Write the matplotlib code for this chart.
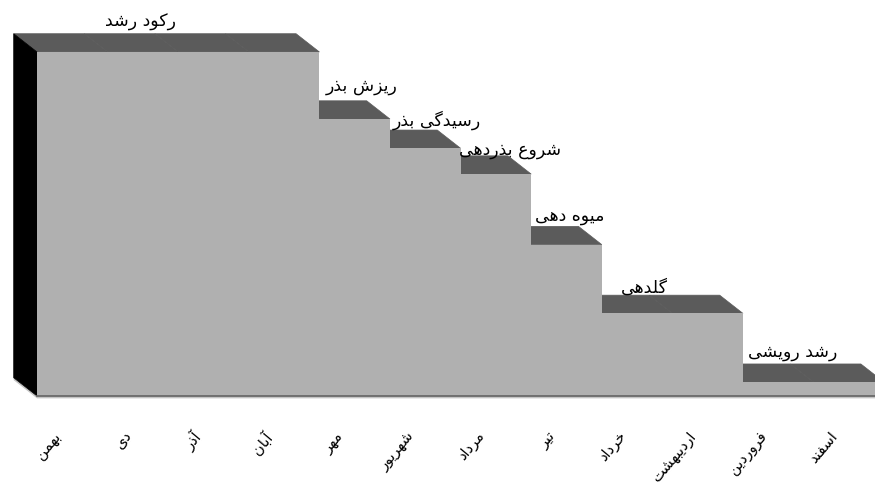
#!/usr/bin/env python
'''
3D-looking stepped column chart of growth stages per month (Persian labels)
usage: python plot.py  -> out.png
'''
import matplotlib as mpl
mpl.use('Agg')
import matplotlib.pyplot as plt
from matplotlib.patches import Polygon

months = ['بهمن', 'دی', 'آذر', 'آبان', 'مهر', 'شهریور', 'مرداد', 'تیر',
          'خرداد', 'اردیبهشت', 'فروردین', 'اسفند']
values = [100, 100, 100, 100, 80.5, 72, 64.5, 44, 24, 24, 4, 4]
stages = ['رکود رشد', 'ریزش بذر', 'رسیدگی بذر', 'شروع بذردهی',
          'میوه دهی', 'گلدهی', 'رشد رویشی']
stage_start = [0, 4, 5, 6, 7, 8, 10]

# layout
FigSize = (8.75, 4.83)
DPI = 100
Xlim = (-0.524, 11.87)
Ylim = (-25.3, 115.1)
DX, DY = 0.33, 5.3          # depth of the 3d look, in data units
LabelNudge = [1.47, 0.6, 0.67, 0.7, 0.54, 0.6, 0.71]
LabelPad = [3.4, 4.3, 2.9, 1.7, 3.0, 2.2, 3.5]
FRONT, TOP, SIDE = '#b0b0b0', '#5b5b5b', '#000000'
StageSize, MonthSize = 12.5, 10.5

# persian letters -> (isolated, final, initial, medial) presentation forms
FORMS = {
    'ا': (0xFE8D, 0xFE8E, None, None),
    'آ': (0xFE81, 0xFE82, None, None),
    'د': (0xFEA9, 0xFEAA, None, None),
    'ذ': (0xFEAB, 0xFEAC, None, None),
    'ر': (0xFEAD, 0xFEAE, None, None),
    'ز': (0xFEAF, 0xFEB0, None, None),
    'و': (0xFEED, 0xFEEE, None, None),
    'ب': (0xFE8F, 0xFE90, 0xFE91, 0xFE92),
    'ت': (0xFE95, 0xFE96, 0xFE97, 0xFE98),
    'خ': (0xFEA5, 0xFEA6, 0xFEA7, 0xFEA8),
    'س': (0xFEB1, 0xFEB2, 0xFEB3, 0xFEB4),
    'ش': (0xFEB5, 0xFEB6, 0xFEB7, 0xFEB8),
    'ع': (0xFEC9, 0xFECA, 0xFECB, 0xFECC),
    'ف': (0xFED1, 0xFED2, 0xFED3, 0xFED4),
    'ل': (0xFEDD, 0xFEDE, 0xFEDF, 0xFEE0),
    'م': (0xFEE1, 0xFEE2, 0xFEE3, 0xFEE4),
    'ن': (0xFEE5, 0xFEE6, 0xFEE7, 0xFEE8),
    'ه': (0xFEE9, 0xFEEA, 0xFEEB, 0xFEEC),
    'ی': (0xFBFC, 0xFBFD, 0xFBFE, 0xFBFF),
    'ک': (0xFB8E, 0xFB8F, 0xFB90, 0xFB91),
    'گ': (0xFB92, 0xFB93, 0xFB94, 0xFB95),
}

def fa(text):
    # no bidi/shaping in matplotlib: pick joined forms and reverse
    out = []
    for i, c in enumerate(text):
        if c not in FORMS:
            out.append(c)
            continue
        prev = text[i-1] if i > 0 else ''
        nxt = text[i+1] if i+1 < len(text) else ''
        jp = prev in FORMS and FORMS[prev][2] is not None
        jn = nxt in FORMS and FORMS[c][2] is not None
        iso, fin, ini, med = FORMS[c]
        if jp and jn:
            g = med
        elif jp:
            g = fin
        elif jn:
            g = ini
        else:
            g = iso
        out.append(chr(g))
    return ''.join(reversed(out))

def plot():
    n = len(values)
    fig = plt.figure(figsize=FigSize, dpi=DPI)
    ax = fig.add_axes([0, 0, 1, 1])
    ax.set_xlim(Xlim)
    ax.set_ylim(Ylim)
    ax.axis('off')

    # floor slab
    ax.add_patch(Polygon([(-DX, DY), (0, 0), (n, 0), (n, -0.7), (0, -0.7), (-DX, DY-0.7)],
                         closed=True, fc='#c4c4c4', ec='none', zorder=1))
    # top faces
    for i, v in enumerate(values):
        ax.add_patch(Polygon([(i, v), (i+1, v), (i+1-DX, v+DY), (i-DX, v+DY)],
                             closed=True, fc=TOP, ec=TOP, lw=0.5, zorder=2))
    # left side wall
    ax.add_patch(Polygon([(0, 0), (0, values[0]), (-DX, values[0]+DY), (-DX, DY)],
                         closed=True, fc=SIDE, ec=SIDE, lw=0.5, zorder=3))
    # front face
    xs = list(range(n+1))
    ax.fill_between(xs, values+[values[-1]], 0, step='post', color=FRONT, lw=0, zorder=4)
    ax.plot([0, n], [0, 0], color='#6a6a6a', lw=1.3, zorder=5)

    # stage labels
    for name, s, dx, pad in zip(stages, stage_start, LabelNudge, LabelPad):
        ax.text(s+dx, values[s]+DY+pad, fa(name), ha='center', va='center',
                fontsize=StageSize, color='k', zorder=6)
    # month labels
    for i, m in enumerate(months):
        ax.text(i+0.38, -9.5, fa(m), ha='right', va='top', rotation=50,
                fontsize=MonthSize, color='k')

    plt.savefig('out.png', dpi=DPI)

if __name__ == '__main__':
    plot()
